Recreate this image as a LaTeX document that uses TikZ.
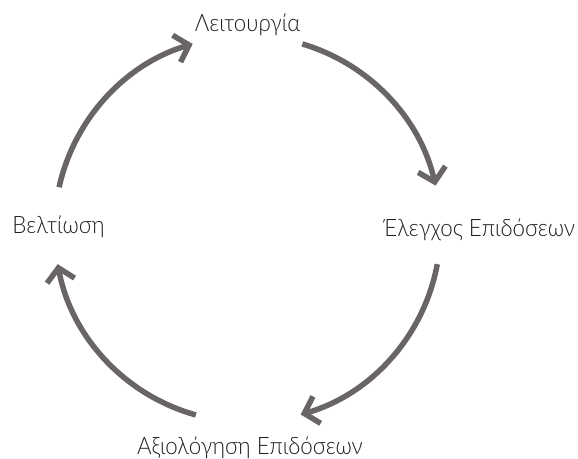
\documentclass[tikz,border=0pt]{standalone}
\usepackage{fontspec}
\setmainfont{Lato Light}[FakeStretch=0.93]
\usetikzlibrary{arrows.meta}
\definecolor{arccol}{RGB}{104,101,100}
\definecolor{txtcol}{RGB}{30,30,30}
\begin{document}
\begin{tikzpicture}[x=1pt,y=1pt,
  cyc/.style={draw=arccol, line width=5.5pt, -{Straight Barb[length=13pt,width=28pt,sharp]}},
  lbl/.style={anchor=base, font=\fontsize{24}{27}\selectfont, text=txtcol, inner sep=0pt}]
\useasboundingbox (0,0) rectangle (578,458);
\coordinate (c) at (247.5,229);
\node[lbl] (top) at (247.5,426) {Λειτουργία};
\node[lbl] (right) at (479,221) {Έλεγχος Επιδόσεων};
\node[lbl] (bottom) at (250,3.5) {Αξιολόγηση Επιδόσεων};
\node[lbl] (left) at (58.5,224) {Βελτίωση};
\draw[cyc] ([shift={(167.5:193)}]c) arc[start angle=167.5, end angle=106.5, radius=193];
\draw[cyc] ([shift={(73.5:193)}]c) arc[start angle=73.5, end angle=13, radius=193];
\draw[cyc] ([shift={(-10.5:193)}]c) arc[start angle=-10.5, end angle=-74, radius=193];
\draw[cyc] ([shift={(-105.5:193)}]c) arc[start angle=-105.5, end angle=-169.5, radius=193];
\end{tikzpicture}
\end{document}
